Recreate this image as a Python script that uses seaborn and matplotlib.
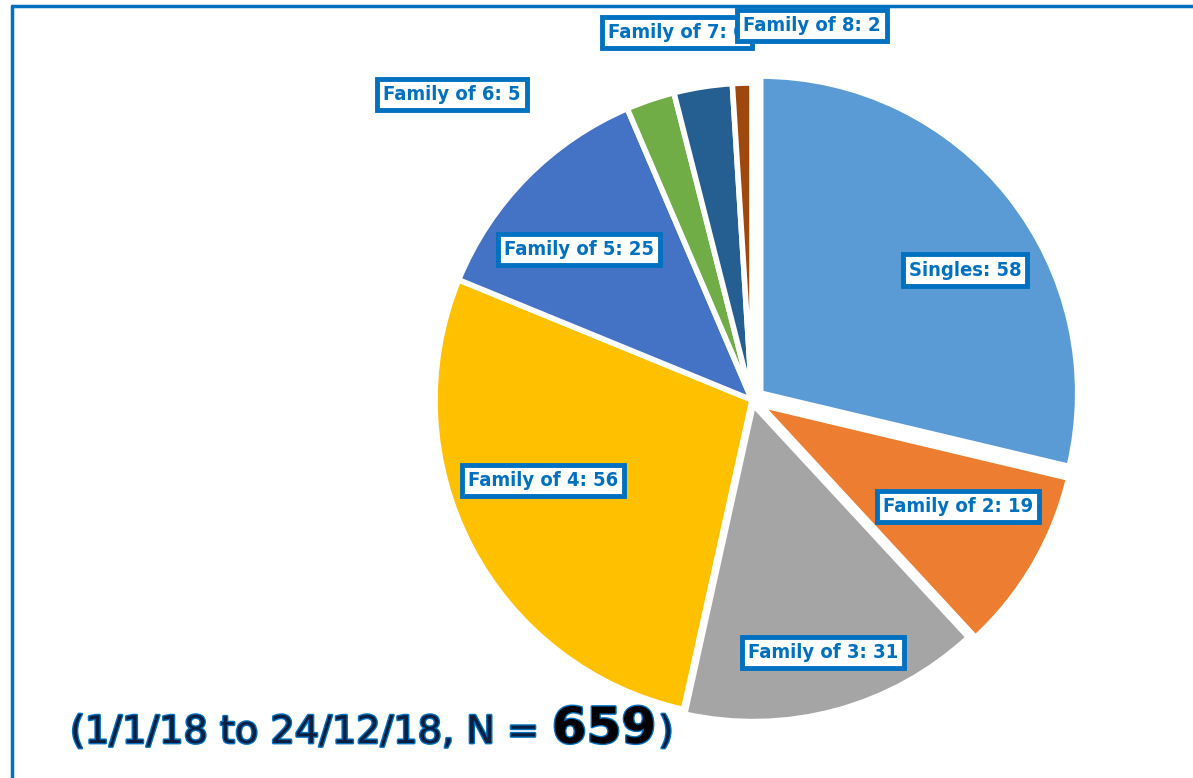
import matplotlib
matplotlib.use("Agg")
import matplotlib.pyplot as plt
import matplotlib.patheffects as pe
from matplotlib.lines import Line2D
from matplotlib import font_manager as fm
import numpy as np
import seaborn as sns

# ---- data ----
categories = ["Singles", "Family of 2", "Family of 3", "Family of 4",
              "Family of 5", "Family of 6", "Family of 7", "Family of 8"]
counts = [58, 19, 31, 56, 25, 5, 6, 2]
colors = ["#5B9BD5", "#ED7D31", "#A5A5A5", "#FFC000",
          "#4472C4", "#70AD47", "#255E91", "#9E480E"]
footer_text = "(1/1/18 to 24/12/18, N = "
footer_n = "659"

# ---- layout / style ----
explode = [0.035, 0.03, 0.015, 0.0, 0.0, 0.0, 0.0, 0.0]
# label placement (angle in degrees, radius factor)
label_place = [(31.4, 0.787), (-27.4, 0.732), (-74.3, 0.826), (201.0, 0.706),
               (138.9, 0.724), (134.5, 1.35), (101.5, 1.182), (80.9, 1.195)]
BLUE = "#0070C0"

sns.set_theme(style="white")
plt.rcParams["font.family"] = ["DejaVu Sans"]
fnames = {f.name for f in fm.fontManager.ttflist}
label_font = "Liberation Sans Narrow" if "Liberation Sans Narrow" in fnames else "DejaVu Sans"

W, H = 1193, 778
fig = plt.figure(figsize=(W / 100, H / 100), dpi=100)
cx, cy, R = 752, 400, 317
ax = fig.add_axes([(cx - R) / W, (H - cy - R) / H, 2 * R / W, 2 * R / H])

wedges, _ = ax.pie(counts, colors=colors, startangle=90, counterclock=False,
                   explode=explode, radius=1.0,
                   wedgeprops=dict(edgecolor="white", linewidth=4))
ax.set_xlim(-1, 1)
ax.set_ylim(-1, 1)
ax.set_aspect("equal")
ax.axis("off")
for w in wedges:
    w.set_clip_on(False)

for i, (w, cat, n, (ang, rf)) in enumerate(zip(wedges, categories, counts, label_place)):
    x = rf * np.cos(np.radians(ang))
    y = rf * np.sin(np.radians(ang))
    ax.text(x, y, f"{cat}: {n}", ha="center", va="center",
            fontsize=14.5, fontweight="bold", fontstretch="condensed",
            family=label_font, color=BLUE, clip_on=False,
            bbox=dict(boxstyle="square,pad=0.3", facecolor="white",
                      edgecolor=BLUE, linewidth=3.5), zorder=5 + i)

# frame lines
fig.add_artist(Line2D([12 / W, 1.0], [1 - 6 / H, 1 - 6 / H], color=BLUE, lw=2.5))
fig.add_artist(Line2D([12 / W, 12 / W], [0, 1 - 6 / H], color=BLUE, lw=2.5))

# footer
stroke = [pe.withStroke(linewidth=2.0, foreground=BLUE)]
ty = 1 - 743 / H
t1 = fig.text(70 / W, ty, footer_text, fontsize=27.5, color="#0a1f40",
              ha="left", va="baseline", path_effects=stroke)
fig.canvas.draw()
bb = t1.get_window_extent()
t2 = fig.text(bb.x1 / W, ty, footer_n, fontsize=36, fontweight="bold",
              color="#000000", ha="left", va="baseline", path_effects=stroke)
fig.canvas.draw()
bb2 = t2.get_window_extent()
fig.text(bb2.x1 / W + 0.002, ty, ")", fontsize=27.5, color="#0a1f40",
         ha="left", va="baseline", path_effects=stroke)

fig.savefig("out.png", dpi=100, facecolor="white")
